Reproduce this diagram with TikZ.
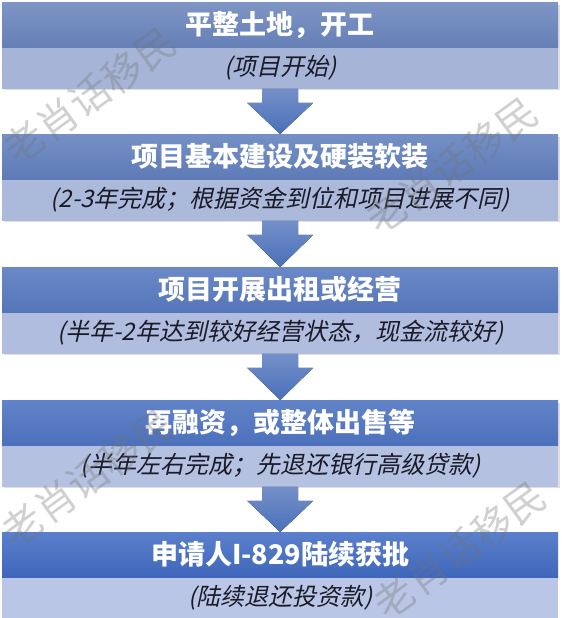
\documentclass[tikz,border=0pt]{standalone}
\usepackage{fontspec}
\setmainfont{Noto Sans CJK SC}
\newfontfamily\subfont[FakeSlant=0.22]{Noto Sans CJK SC}
\newfontfamily\wmfont{Noto Sans CJK SC}
\usetikzlibrary{calc}
\definecolor{subtxt}{HTML}{1A1A28}
\definecolor{hA1}{HTML}{7E95C5}\definecolor{hB1}{HTML}{6680B6}\definecolor{sb1}{HTML}{A6B5D7}
\definecolor{hA2}{HTML}{7590C6}\definecolor{hB2}{HTML}{5E7BB7}\definecolor{sb2}{HTML}{ABB9DA}
\definecolor{hA3}{HTML}{6B89C7}\definecolor{hB3}{HTML}{5575B9}\definecolor{sb3}{HTML}{B0BDDE}
\definecolor{hA4}{HTML}{6183C8}\definecolor{hB4}{HTML}{4C70BB}\definecolor{sb4}{HTML}{B4C1E1}
\definecolor{hA5}{HTML}{5A7FCB}\definecolor{hB5}{HTML}{3F67BA}\definecolor{sb5}{HTML}{BAC6E5}
\definecolor{arA}{HTML}{7490C9}\definecolor{arB}{HTML}{4A6FB9}
\tikzset{
  hd/.style={anchor=north west, minimum width=556pt, minimum height=45pt, inner sep=0pt,
    text=white, font=\bfseries\fontsize{27}{27}\selectfont},
  sb/.style={anchor=north west, minimum width=556pt, minimum height=41pt, inner sep=0pt,
    text=subtxt, font=\subfont\fontsize{24}{24}\selectfont},
  shadow/.style={fill=black!35, opacity=0.35},
  blockarrow/.style={top color=arA, bottom color=arB, draw=none},
  wm/.style={text=black!55, text opacity=0.33, font=\wmfont\fontsize{40}{40}\selectfont, rotate=36, inner sep=0pt}
}
\begin{document}
\begin{tikzpicture}[x=1pt,y=-1pt]
\useasboundingbox (0,0) rectangle (563,618);
\fill[white] (0,0) rectangle (563,618);
% shadows
\foreach \t in {2,134,267,400} {\fill[shadow] (4,\t+3) rectangle (560,\t+88);}
% boxes
\node[hd, top color=hA1, bottom color=hB1] (h1) at (2,2) {平整土地，开工};
\node[sb, fill=sb1] (s1) at (h1.south west) {(项目开始)};
\node[hd, top color=hA2, bottom color=hB2] (h2) at (2,134) {项目基本建设及硬装软装};
\node[sb, fill=sb2] (s2) at (h2.south west) {(2-3年完成；根据资金到位和项目进展不同)};
\node[hd, top color=hA3, bottom color=hB3] (h3) at (2,267) {项目开展出租或经营};
\node[sb, fill=sb3] (s3) at (h3.south west) {(半年-2年达到较好经营状态，现金流较好)};
\node[hd, top color=hA4, bottom color=hB4] (h4) at (2,400) {再融资，或整体出售等};
\node[sb, fill=sb4] (s4) at (h4.south west) {(半年左右完成；先退还银行高级贷款)};
\node[hd, top color=hA5, bottom color=hB5] (h5) at (2,532) {申请人I-829陆续获批};
\node[sb, fill=sb5] (s5) at (h5.south west) {(陆续退还投资款)};
% block arrows
\foreach \a/\b in {s1/h2,s2/h3,s3/h4,s4/h5} {
  \fill[blockarrow] ([xshift=-18pt]\a.south) -- ([xshift=-18pt,yshift=-14pt]\a.south)
    -- ([xshift=-33pt,yshift=-14pt]\a.south) -- (\b.north)
    -- ([xshift=33pt,yshift=-14pt]\a.south) -- ([xshift=18pt,yshift=-14pt]\a.south)
    -- ([xshift=18pt]\a.south) -- cycle;
}
% watermarks
\node[wm] (w1) at (90,96) {老肖话移民};
\node[wm] (w2) at (452,166) {老肖话移民};
\node[wm] (w3) at (88,478) {老肖话移民};
\node[wm] (w4) at (460,550) {老肖话移民};
\end{tikzpicture}
\end{document}
